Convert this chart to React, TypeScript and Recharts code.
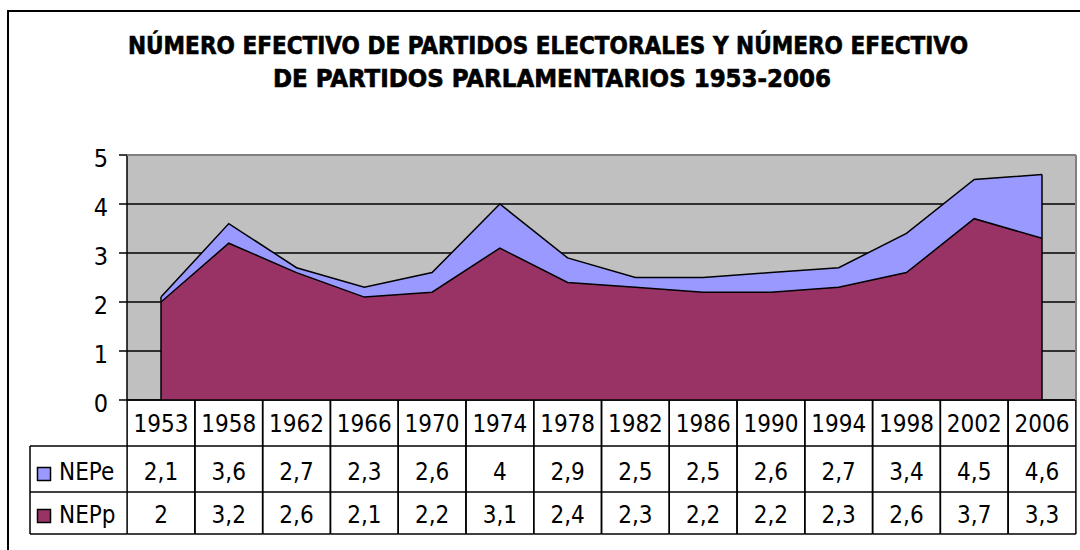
import React from 'react';
import { AreaChart, Area, XAxis, YAxis, CartesianGrid, ReferenceLine } from 'recharts';

const years = ['1953', '1958', '1962', '1966', '1970', '1974', '1978', '1982', '1986', '1990', '1994', '1998', '2002', '2006'];
const nepe = [2.1, 3.6, 2.7, 2.3, 2.6, 4, 2.9, 2.5, 2.5, 2.6, 2.7, 3.4, 4.5, 4.6];
const nepp = [2, 3.2, 2.6, 2.1, 2.2, 3.1, 2.4, 2.3, 2.2, 2.2, 2.3, 2.6, 3.7, 3.3];
const yTicks = [0, 1, 2, 3, 4, 5];

const titleLines = [
  'NÚMERO EFECTIVO DE PARTIDOS ELECTORALES Y NÚMERO EFECTIVO',
  'DE PARTIDOS PARLAMENTARIOS 1953-2006',
];

const FONT = '"DejaVu Sans Condensed", "DejaVu Sans", sans-serif';
const BLUE = '#9999FF';
const PLUM = '#993366';
const LW = 1.5;

// plot box
const LEFT = 127;
const RIGHT = 1076;
const TOP = 155;
const PAD = 34;
const COL = (RIGHT - LEFT - 2 * PAD) / (years.length - 1);
// table rows
const ROW1 = 446;
const ROW2 = 492;
const ROW3 = 534;

const data = years.map((year, i) => ({ year, NEPe: nepe[i], NEPp: nepp[i] }));

const fmt = (v: number) => String(v).replace('.', ',');

// every x tick draws one column of the data table below the plot
const TableColumn = (props: any) => {
  const { x, y, index } = props;
  const l = x - COL / 2;
  const r = x + COL / 2;
  return (
    <g>
      <line x1={l} y1={y} x2={l} y2={ROW3} stroke="#000" strokeWidth={LW} />
      <line x1={r} y1={y} x2={r} y2={ROW3} stroke="#000" strokeWidth={LW} />
      <line x1={l} y1={ROW1} x2={r} y2={ROW1} stroke="#000" strokeWidth={LW} />
      <line x1={l} y1={ROW2} x2={r} y2={ROW2} stroke="#000" strokeWidth={LW} />
      <line x1={l} y1={ROW3} x2={r} y2={ROW3} stroke="#000" strokeWidth={LW} />
      <text x={x} y={432} textAnchor="middle" fontFamily={FONT} fontSize={24} fill="#000">{years[index]}</text>
      <text x={x} y={480} textAnchor="middle" fontFamily={FONT} fontSize={24} fill="#000">{fmt(nepe[index])}</text>
      <text x={x} y={523} textAnchor="middle" fontFamily={FONT} fontSize={24} fill="#000">{fmt(nepp[index])}</text>
    </g>
  );
};

const Overlay = () => (
  <svg width={1080} height={550} style={{ position: 'absolute', left: 0, top: 0, pointerEvents: 'none' }}>
    <rect x={8} y={11} width={1090} height={560} fill="none" stroke="#000" strokeWidth={2} />
    <text x={548} y={54} textAnchor="middle" fontFamily={FONT} fontWeight="bold" fontSize={24}
      stroke="#000" strokeWidth={0.6} textLength={840} lengthAdjust="spacingAndGlyphs">{titleLines[0]}</text>
    <text x={552} y={87} textAnchor="middle" fontFamily={FONT} fontWeight="bold" fontSize={24}
      stroke="#000" strokeWidth={0.6} textLength={558} lengthAdjust="spacingAndGlyphs">{titleLines[1]}</text>
    {/* plot border */}
    <line x1={LEFT} y1={TOP} x2={RIGHT} y2={TOP} stroke="#808080" strokeWidth={2} />
    <line x1={RIGHT} y1={TOP} x2={RIGHT} y2={400} stroke="#808080" strokeWidth={2} />
    {/* legend column */}
    <line x1={30} y1={ROW1} x2={LEFT} y2={ROW1} stroke="#000" strokeWidth={LW} />
    <line x1={30} y1={ROW2} x2={LEFT} y2={ROW2} stroke="#000" strokeWidth={LW} />
    <line x1={30} y1={ROW3} x2={LEFT} y2={ROW3} stroke="#000" strokeWidth={LW} />
    <line x1={30} y1={ROW1} x2={30} y2={ROW3} stroke="#000" strokeWidth={LW} />
    <rect x={37.5} y={467.5} width={13} height={13} fill={BLUE} stroke="#000" strokeWidth={1.5} />
    <rect x={37.5} y={509.5} width={13} height={13} fill={PLUM} stroke="#000" strokeWidth={1.5} />
    <text x={59} y={480} fontFamily={FONT} fontSize={24} fill="#000">NEPe</text>
    <text x={59} y={523} fontFamily={FONT} fontSize={24} fill="#000">NEPp</text>
  </svg>
);

export default function App() {
  return (
    <div style={{ position: 'absolute', left: 0, top: 0, width: 1080, height: 550, background: '#fff', overflow: 'hidden' }}>
      <AreaChart width={1080} height={550} data={data} margin={{ top: TOP, right: 1080 - RIGHT, bottom: 17, left: 0 }}>
        <CartesianGrid vertical={false} stroke="#000" strokeWidth={LW} fill="#C0C0C0" />
        <XAxis
          dataKey="year"
          height={133}
          interval={0}
          padding={{ left: PAD, right: PAD }}
          axisLine={{ stroke: '#000', strokeWidth: LW }}
          tickLine={false}
          tickSize={0}
          tickMargin={0}
          tick={(p: any) => <TableColumn {...p} />}
        />
        <YAxis
          width={LEFT}
          domain={[0, 5]}
          ticks={yTicks}
          interval={0}
          axisLine={{ stroke: '#000', strokeWidth: LW }}
          tickLine={{ stroke: '#000', strokeWidth: LW }}
          tickSize={8}
          tickMargin={11}
          tick={{ fontFamily: FONT, fontSize: 25, fill: '#000', dy: 3 }}
        />
        <Area type="linear" dataKey="NEPe" stroke="#000" strokeWidth={1.5} fill={BLUE} fillOpacity={1}
          dot={false} activeDot={false} isAnimationActive={false} />
        <Area type="linear" dataKey="NEPp" stroke="#000" strokeWidth={1.5} fill={PLUM} fillOpacity={1}
          dot={false} activeDot={false} isAnimationActive={false} />
        <ReferenceLine segment={[{ x: years[0], y: 0 }, { x: years[0], y: nepe[0] }]} stroke="#000" strokeWidth={1.5} />
        <ReferenceLine segment={[{ x: years[years.length - 1], y: 0 }, { x: years[years.length - 1], y: nepe[nepe.length - 1] }]}
          stroke="#000" strokeWidth={1.5} />
      </AreaChart>
      <Overlay />
    </div>
  );
}
